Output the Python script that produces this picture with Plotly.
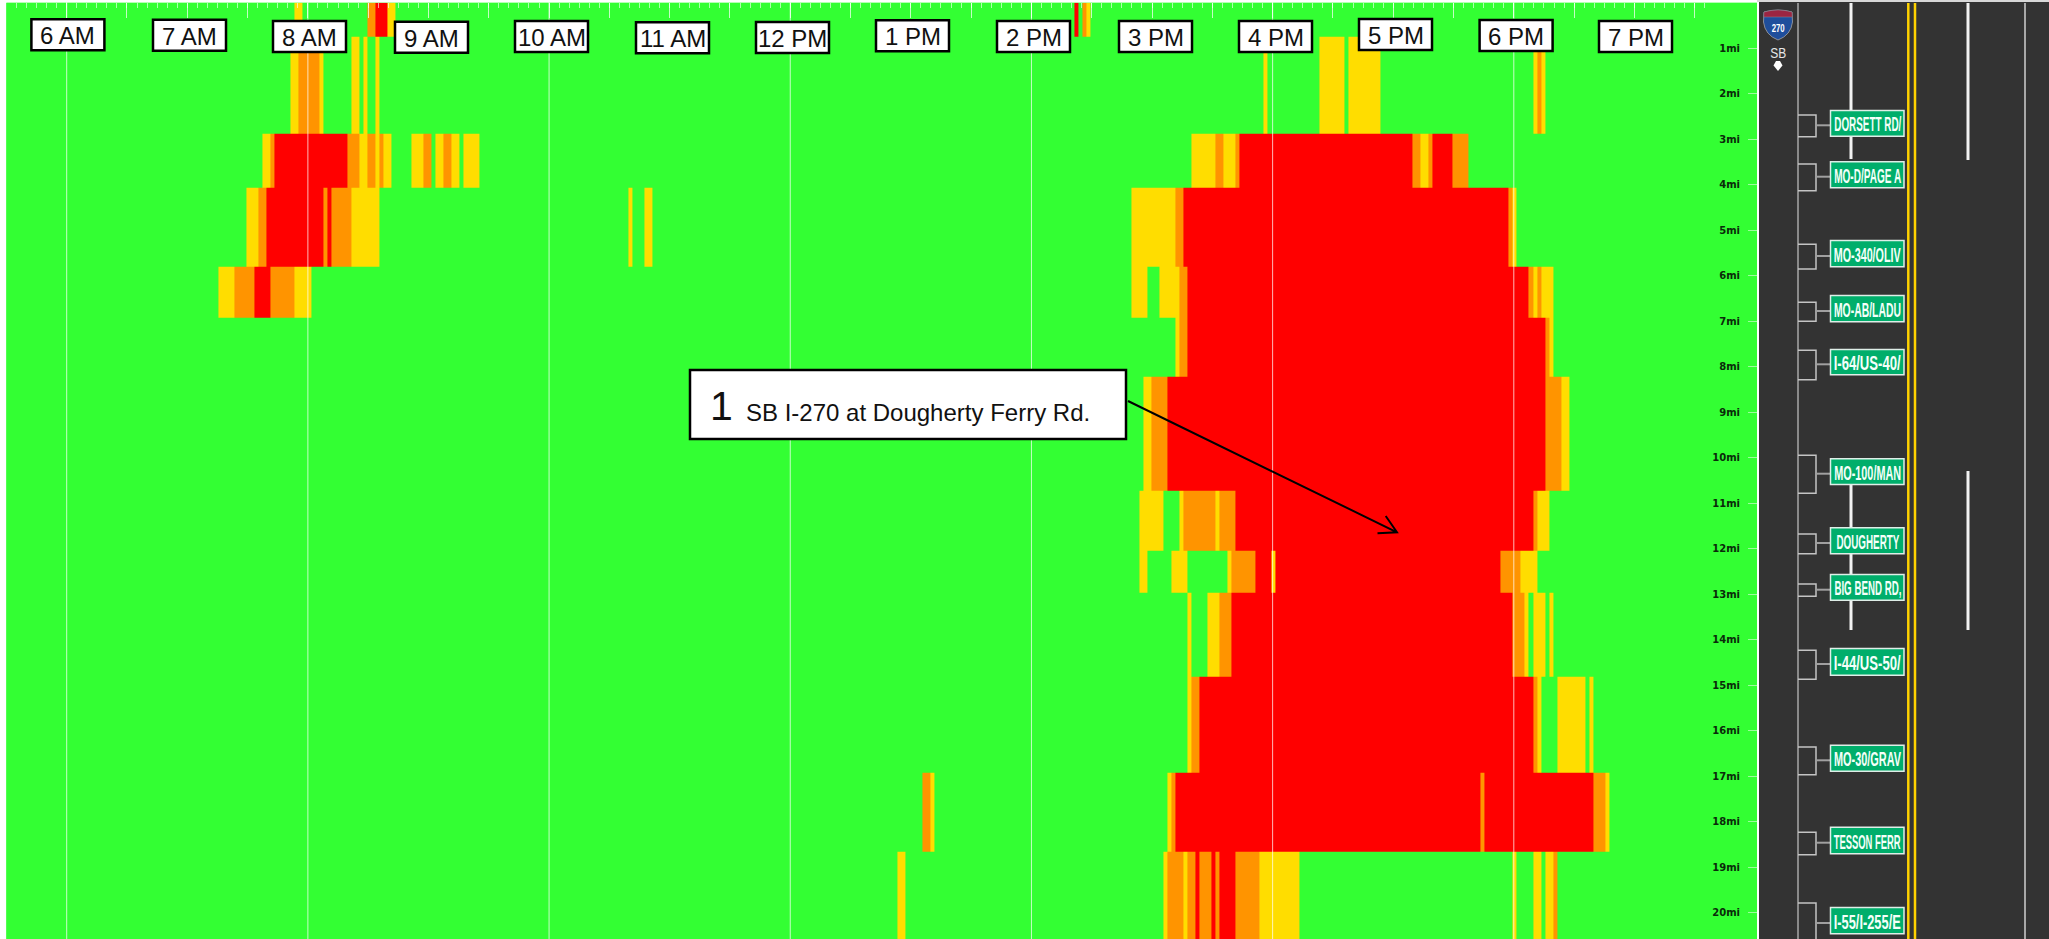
import numpy as np
import plotly.graph_objects as go

W, H = 2049, 939

# ---------------- DATA ----------------
HOUR_LABELS = ["6 AM", "7 AM", "8 AM", "9 AM", "10 AM", "11 AM", "12 PM",
               "1 PM", "2 PM", "3 PM", "4 PM", "5 PM", "6 PM", "7 PM"]
MILE_TICKS = list(range(1, 21))
MILE_TEXT = [f"{m}mi" for m in MILE_TICKS]

# Road-section boundaries, in miles from the top of the corridor
SECTION_EDGES_MI = [0.0, 0.754, 2.885, 4.07, 5.81, 6.93, 8.23, 10.73,
                    12.05, 12.97, 14.82, 16.93, 18.67, 20.6]

# Two-minute time cells: cell k starts at FIRST_CELL_MIN + k * CELL_MIN (minutes after midnight)
FIRST_CELL_MIN = 361.5
CELL_MIN = 2
FIRST_CELL, LAST_CELL = -16, 421

# Congestion levels: 0 free flow, 1 yellow, 2 orange, 3 red
# Each run is (first cell, cell after last, level), everything else is level 0
sec00 = [(56, 58, 1), (74, 76, 2), (76, 79, 3), (79, 81, 1), (250, 251, 3), (252, 253, 2), (253, 254, 1)]
sec01 = [(55, 57, 1), (57, 62, 2), (62, 63, 1), (70, 72, 1), (73, 74, 1), (76, 77, 1), (297, 298, 1),
         (311, 317, 1), (318, 326, 1), (364, 365, 1), (365, 366, 2), (366, 367, 1)]
sec02 = [(48, 50, 1), (50, 51, 2), (51, 69, 3), (69, 72, 2), (72, 74, 1), (74, 76, 2), (76, 77, 1),
         (77, 78, 2), (78, 80, 1), (85, 88, 1), (88, 90, 2), (91, 93, 1), (93, 95, 2), (95, 97, 1),
         (98, 102, 1), (279, 285, 1), (285, 287, 2), (287, 290, 1), (290, 291, 2), (291, 334, 3),
         (334, 336, 2), (336, 338, 1), (338, 339, 2), (339, 344, 3), (344, 348, 2)]
sec03 = [(44, 47, 1), (47, 49, 2), (49, 63, 3), (63, 64, 2), (64, 65, 3), (65, 70, 2), (70, 77, 1),
         (139, 140, 1), (143, 145, 1), (264, 275, 1), (275, 277, 2), (277, 358, 3), (358, 359, 2), (359, 360, 1)]
sec04 = [(37, 41, 1), (41, 46, 2), (46, 50, 3), (50, 56, 2), (56, 60, 1), (264, 268, 1), (271, 276, 1),
         (276, 278, 2), (278, 363, 3), (363, 364, 2), (364, 365, 1), (365, 366, 2), (366, 369, 1)]
sec05 = [(275, 276, 1), (276, 278, 2), (278, 367, 3), (367, 368, 2), (368, 369, 1)]
sec06 = [(267, 269, 1), (269, 273, 2), (273, 367, 3), (367, 371, 2), (371, 373, 1)]
sec07 = [(266, 272, 1), (276, 277, 1), (277, 285, 2), (285, 286, 1), (286, 290, 2), (290, 364, 3),
         (364, 365, 2), (365, 368, 1)]
sec08 = [(266, 268, 1), (274, 278, 1), (288, 289, 1), (289, 295, 2), (295, 299, 3), (299, 300, 1),
         (300, 356, 3), (356, 361, 2), (361, 365, 1)]
sec09 = [(278, 279, 1), (283, 286, 1), (286, 289, 2), (289, 359, 3), (359, 362, 2), (362, 363, 1),
         (364, 367, 1), (368, 369, 1)]
sec10 = [(278, 279, 1), (279, 281, 2), (281, 364, 3), (364, 365, 2), (365, 366, 1), (370, 377, 1), (378, 379, 1)]
sec11 = [(212, 214, 2), (214, 215, 1), (273, 274, 1), (274, 275, 2), (275, 351, 3), (351, 352, 2),
         (352, 379, 3), (379, 382, 2), (382, 383, 1)]
sec12 = [(206, 208, 1), (272, 273, 1), (273, 277, 2), (277, 278, 1), (278, 280, 2), (280, 281, 3),
         (281, 284, 2), (284, 285, 3), (285, 286, 2), (286, 290, 3), (290, 296, 2), (296, 306, 1),
         (359, 360, 1), (364, 366, 1), (367, 369, 1), (369, 370, 2)]
SECTIONS = [sec00, sec01, sec02, sec03, sec04, sec05, sec06, sec07, sec08, sec09, sec10, sec11, sec12]

EXIT_SIGNS = ["DORSETT RD/", "MO-D/PAGE A", "MO-340/OLIV", "MO-AB/LADU", "I-64/US-40/", "MO-100/MAN",
              "DOUGHERTY", "BIG BEND RD,", "I-44/US-50/", "MO-30/GRAV", "TESSON FERR", "I-55/I-255/E"]
CALLOUT_NUMBER = "1"
CALLOUT_TEXT = "SB I-270 at Dougherty Ferry Rd."

# ---------------- LAYOUT (pixels of the page) ----------------
HOUR_BOX_LEFT = [30.4, 152, 272, 394, 514, 635, 755, 875, 996, 1118, 1238, 1358, 1478.6, 1598]
HOUR_BOX_TOP = [18.3, 18.7, 20, 20.7, 20, 21.3, 21, 19.3, 20, 20, 20, 18, 19, 20]
SIGN_TOP = [110, 161.3, 240, 295, 349, 458.3, 527.3, 574, 648, 744.7, 826.7, 907]
SIGN_BOT = [136.7, 188.3, 267.3, 322.3, 375.3, 485, 554.3, 600.7, 675.7, 771.7, 854.3, 934.3]
BRK_TOP = [115, 164, 244.3, 302.3, 350.3, 455.3, 534, 584, 650.3, 747, 832.3, 903]
BRK_BOT = [136.7, 190.7, 269, 321.3, 379.7, 493.3, 553.7, 596.3, 679.3, 774.7, 854.7, 960]
BRK_MID = [125.3, 176.7, 256, 311, 364.3, 473.7, 543, 589.7, 664, 760.3, 842.7, 923]

COLORS = ["#33FF33", "#FFDD00", "#FF9400", "#FF0000"]


def px(x):
    return x / W


def py(y):
    return 1 - y / H


# ---------------- HEATMAP ----------------
cells = np.arange(FIRST_CELL, LAST_CELL)
z = np.zeros((len(SECTIONS), len(cells)), dtype=int)
for i, runs in enumerate(SECTIONS):
    for a, b, lvl in runs:
        z[i, a - FIRST_CELL:b - FIRST_CELL] = lvl
x_edges = FIRST_CELL_MIN + CELL_MIN * np.arange(FIRST_CELL, LAST_CELL + 1)

colorscale = [[0, COLORS[0]], [0.25, COLORS[0]], [0.25, COLORS[1]], [0.5, COLORS[1]],
              [0.5, COLORS[2]], [0.75, COLORS[2]], [0.75, COLORS[3]], [1, COLORS[3]]]
fig = go.Figure(go.Heatmap(x=x_edges, y=SECTION_EDGES_MI, z=z, zmin=0, zmax=3,
                           colorscale=colorscale, showscale=False, hoverinfo="skip"))

shapes, annos = [], []


def line(x0, y0, x1, y1, color, width):
    shapes.append(dict(type="line", xref="paper", yref="paper", x0=px(x0), y0=py(y0), x1=px(x1), y1=py(y1),
                       line=dict(color=color, width=width), layer="above"))


def rect(x0, y0, x1, y1, fill, color=None, width=0):
    shapes.append(dict(type="rect", xref="paper", yref="paper", x0=px(x0), y0=py(y0), x1=px(x1), y1=py(y1),
                       fillcolor=fill, line=dict(color=color or fill, width=width), layer="above"))


def text(x, y, s, size, color="#111111", family="Liberation Sans", xanchor="center", weight=None):
    f = dict(size=size, color=color, family=family)
    if weight:
        f["weight"] = weight
    annos.append(dict(xref="paper", yref="paper", x=px(x), y=py(y), text=s, showarrow=False,
                      xanchor=xanchor, yanchor="middle", font=f, borderpad=0))


# two-hourly white grid lines
for hour in range(6, 20, 2):
    shapes.append(dict(type="line", xref="x", yref="paper", x0=hour * 60, x1=hour * 60, y0=0, y1=1,
                       line=dict(color="rgba(255,255,255,0.72)", width=1), layer="above"))

# hour label boxes
for lab, l, t in zip(HOUR_LABELS, HOUR_BOX_LEFT, HOUR_BOX_TOP):
    rect(l + 1, t + 1, l + 74, t + 32, "white", "black", 2.5)
    text(l + 37.5, t + 17.5, lab, 24)

# callout
rect(690, 370, 1126, 439, "white", "black", 2.5)
text(709, 406, CALLOUT_NUMBER, 41, xanchor="left")
text(744.5, 412.5, CALLOUT_TEXT, 24, xanchor="left")
shapes.append(dict(type="path", xref="paper", yref="paper", layer="above",
                   path=f"M {px(1128)} {py(401)} L {px(1397)} {py(532.3)} "
                        f"M {px(1385.7)} {py(516)} L {px(1397)} {py(532.3)} L {px(1377.5)} {py(533.3)}",
                   line=dict(color="black", width=2)))

# road panel
rect(1759, 0, W, H, "#333333")
line(1757, 1, W, 1, "#d8d8d8", 2)
line(1798, 3, 1798, H, "#a8a8a8", 1.5)
line(1851, 3, 1851, 159, "#f2f2f2", 3)
line(1851, 471, 1851, 630, "#f2f2f2", 3)
line(1968, 3, 1968, 160, "#f2f2f2", 3)
line(1968, 471, 1968, 630, "#f2f2f2", 3)
line(1908.3, 3, 1908.3, H, "#FFD200", 2.5)
line(1915, 3, 1915, H, "#FFD200", 2.5)
line(2025, 3, 2025, H, "#a8a8a8", 2)

for name, st, sb, bt, bb, bm in zip(EXIT_SIGNS, SIGN_TOP, SIGN_BOT, BRK_TOP, BRK_BOT, BRK_MID):
    shapes.append(dict(type="path", xref="paper", yref="paper", layer="above",
                       path=f"M {px(1798)} {py(bt)} L {px(1816)} {py(bt)} L {px(1816)} {py(bb)} L {px(1798)} {py(bb)}",
                       line=dict(color="#c4c4c4", width=1.5)))
    line(1816, bm, 1830, bm, "#a0a0a0", 2)
    rect(1830.5, st + .5, 1904, sb - .5, "#00AE6B", "#dfeee8", 1.5)
    text(1867.5, (st + sb) / 2 + 1, name, 20, "#f4fff9", "Liberation Sans", weight=700)

# interstate shield
cx = 1778
shapes.append(dict(type="path", xref="paper", yref="paper", layer="above",
                   path=" ".join([f"M {px(cx-14)} {py(12)}", f"Q {px(cx)} {py(8)} {px(cx+14)} {py(12)}",
                                  f"L {px(cx+14.5)} {py(22)}", f"Q {px(cx+13)} {py(35)} {px(cx)} {py(40)}",
                                  f"Q {px(cx-13)} {py(35)} {px(cx-14.5)} {py(22)} Z"]),
                   fillcolor="#1F4E9C", line=dict(color="#8a8f99", width=1)))
shapes.append(dict(type="path", xref="paper", yref="paper", layer="above",
                   path=" ".join([f"M {px(cx-14)} {py(12)}", f"Q {px(cx)} {py(8)} {px(cx+14)} {py(12)}",
                                  f"L {px(cx+14.3)} {py(17)} L {px(cx-14.3)} {py(17)} Z"]),
                   fillcolor="#9C2542", line=dict(color="#8a8f99", width=0.5)))
text(cx, 28, "270", 11, "white", "Liberation Sans", weight=700)
text(cx, 53.5, "SB", 14, "#e6e6e6", "Liberation Sans")
shapes.append(dict(type="path", xref="paper", yref="paper", layer="above",
                   path=f"M {px(cx-2)} {py(61)} L {px(cx+2)} {py(61)} L {px(cx+4.5)} {py(65.5)} "
                        f"L {px(cx)} {py(71)} L {px(cx-4.5)} {py(65.5)} Z",
                   fillcolor="white", line=dict(color="white", width=0)))

fig.update_layout(
    width=W, height=H, margin=dict(l=0, r=0, t=0, b=0),
    paper_bgcolor="white", plot_bgcolor=COLORS[0], showlegend=False,
    shapes=shapes, annotations=annos,
    xaxis=dict(domain=[px(6.4), px(1757)], range=[330, 1201], side="top", showgrid=False, zeroline=False,
               showticklabels=False, showline=False,
               tickvals=list(range(330, 1201, 30)), ticks="inside", ticklen=15, tickwidth=1,
               tickcolor="rgba(255,255,255,0.7)",
               minor=dict(tickvals=list(range(330, 1201, 5)), ticks="inside", ticklen=5, tickwidth=1,
                          tickcolor="rgba(255,255,255,0.6)")),
    yaxis=dict(domain=[0, py(2.7)], range=[20.58, 0], side="right", showgrid=False, zeroline=False, showline=False,
               tickvals=MILE_TICKS, ticktext=MILE_TEXT, ticks="inside", ticklen=9, tickwidth=1,
               tickcolor="#9CFF9C", ticklabelposition="inside", ticklabelstandoff=7,
               tickfont=dict(family="DejaVu Sans", size=10, color="#0A2A0A", weight=700)),
)

post = """
document.documentElement.style.overflow='hidden';
document.body.style.margin='0';
document.body.style.overflow='hidden';
var names = %s;
document.querySelectorAll('.annotation-text').forEach(function(t){
  var s = t.textContent;
  if (names.indexOf(s) >= 0) {
    t.setAttribute('textLength', s === 'DOUGHERTY' ? 63 : 67);
    t.setAttribute('lengthAdjust', 'spacingAndGlyphs');
  }
  if (s === '270') { t.setAttribute('textLength', 13); t.setAttribute('lengthAdjust', 'spacingAndGlyphs'); }
  if (s === 'SB') { t.setAttribute('textLength', 16); t.setAttribute('lengthAdjust', 'spacingAndGlyphs'); }
});
""" % (str(EXIT_SIGNS))
fig.write_html("out.html", post_script=post, config={"displayModeBar": False})
